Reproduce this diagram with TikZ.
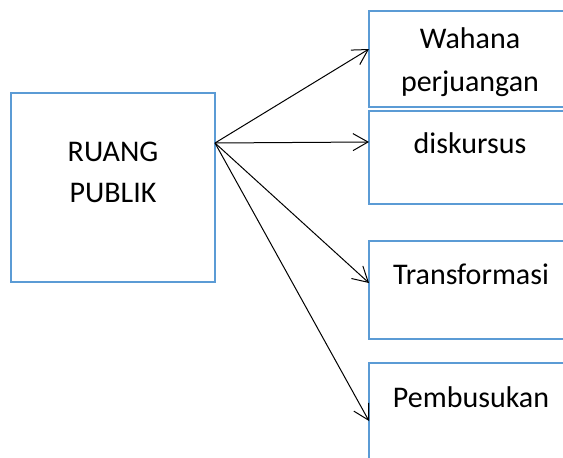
\documentclass[tikz,border=0pt]{standalone}
\usepackage{fontspec}
\setmainfont{Carlito}
\usepackage{xcolor}
\usetikzlibrary{arrows.meta}
\definecolor{boxblue}{HTML}{5B9BD5}
\tikzset{
  box/.style={draw=boxblue,line width=2.2pt,minimum width=202pt,
    anchor=north west,inner sep=0pt,outer sep=0pt},
  caption/.style={font=\fontsize{30}{43}\selectfont,align=center,anchor=base},
  link/.style={draw=black,line width=1pt,
    -{Straight Barb[length=15pt,width=17pt]}}
}

\begin{document}
\begin{tikzpicture}[x=1pt,y=-1pt]
  \useasboundingbox (0,0) rectangle (563,458);
  \clip (0,0) rectangle (563,458);
  \node[box,minimum width=204pt,minimum height=189pt] (ruang) at (11,93) {};
  \node[box,minimum height=96pt] (wahana) at (369,11) {};
  \node[box,minimum height=93pt] (diskursus) at (369,111) {};
  \node[box,minimum height=98pt] (transformasi) at (369,241) {};
  \node[box,minimum height=100pt] (pembusukan) at (369,363) {};
  % base anchor of a two-line caption sits on its last line
  \node[caption,font=\fontsize{30}{41}\selectfont] (ruangtext) at (113,202) {RUANG\\PUBLIK};
  \node[caption] (wahanatext) at (470,91) {Wahana\\perjuangan};
  \node[caption] (diskursustext) at (470,153) {diskursus};
  \node[caption] (transformasitext) at (471,284) {Transformasi};
  \node[caption] (pembusukantext) at (471,407) {Pembusukan};
  \coordinate (src) at (215,143);
  \draw[link] (src) -- (wahana.west |- 0,49);
  \draw[link] (src) -- (diskursus.west |- 0,142);
  \draw[link] (src) -- (transformasi.west |- 0,283);
  \draw[link] (src) -- (pembusukan.west |- 0,421);
\end{tikzpicture}
\end{document}
